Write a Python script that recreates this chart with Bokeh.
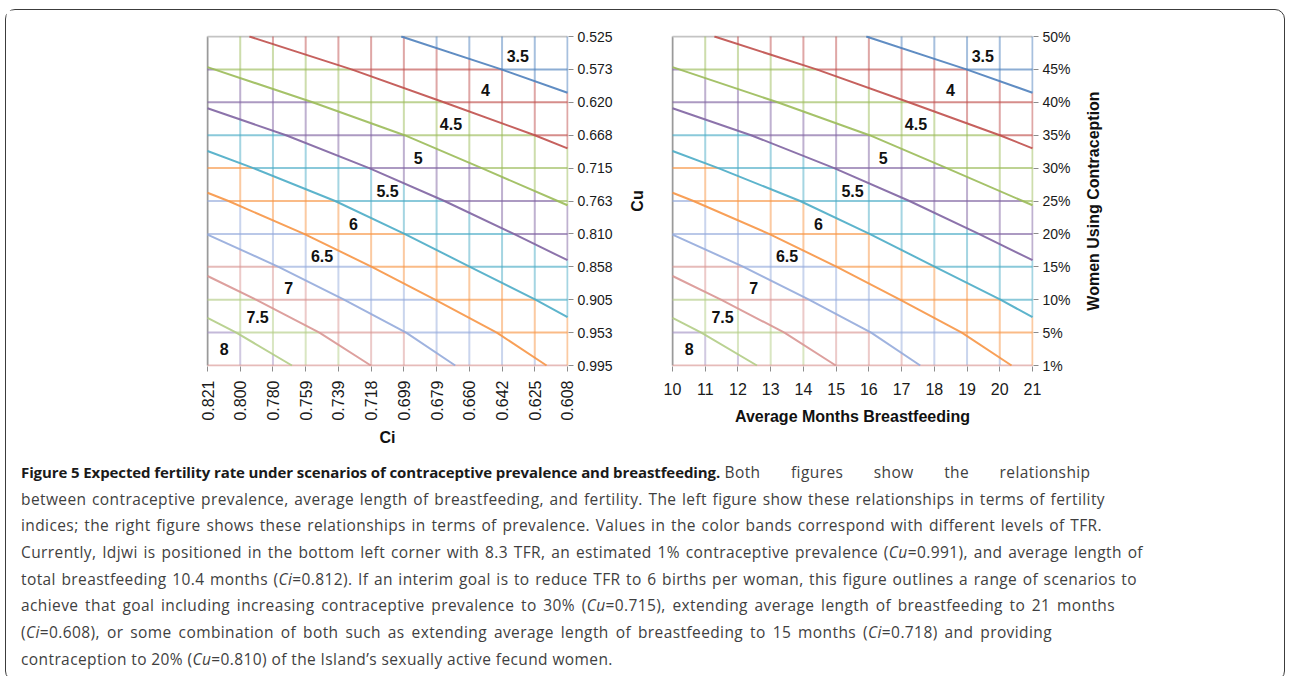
import math
import numpy as np
from bokeh.plotting import figure
from bokeh.models import FixedTicker, Range1d, Div, ColumnDataSource
from bokeh.layouts import column, row
from bokeh.embed import file_html
from bokeh.resources import INLINE
from bokeh.core.properties import value

# ---------------- data ----------------
ci_labels = ["0.821", "0.800", "0.780", "0.759", "0.739", "0.718",
             "0.699", "0.679", "0.660", "0.642", "0.625", "0.608"]
cu_labels = ["0.995", "0.953", "0.905", "0.858", "0.810", "0.763",
             "0.715", "0.668", "0.620", "0.573", "0.525"]          # bottom -> top
month_labels = ["10", "11", "12", "13", "14", "15", "16", "17", "18", "19", "20", "21"]
prev_labels = ["1%", "5%", "10%", "15%", "20%", "25%", "30%", "35%", "40%", "45%", "50%"]

# TFR contour levels and where each contour crosses the grid
# (x = grid column index, y = grid row index from the bottom)
levels = [4.0, 4.5, 5.0, 5.5, 6.0, 6.5, 7.0, 7.5, 8.0]
c40_x = [5.92, 8.98, 11.0];                      c40_y = [10.0, 9.0, 8.29]
c45_x = [1.28, 4.40, 7.22, 10.0, 11.0];          c45_y = [10.0, 9.0, 8.0, 7.0, 6.60]
c50_x = [0.0, 3.21, 6.02, 8.38, 10.7, 11.0];     c50_y = [9.07, 8.0, 7.0, 6.0, 5.0, 4.87]
c55_x = [0.0, 2.40, 4.94, 7.24, 9.36, 11.0];     c55_y = [7.82, 7.0, 6.0, 5.0, 4.0, 3.20]
c60_x = [0.0, 1.40, 3.90, 6.02, 8.02, 10.02, 11.0]; c60_y = [6.52, 6.0, 5.0, 4.0, 3.0, 2.0, 1.47]
c65_x = [0.0, 0.64, 2.95, 5.02, 6.95, 8.84, 10.36]; c65_y = [5.25, 5.0, 4.0, 3.0, 2.0, 1.0, 0.0]
c70_x = [0.0, 2.17, 4.17, 6.07, 7.57];           c70_y = [3.98, 3.0, 2.0, 1.0, 0.0]
c75_x = [0.0, 1.48, 3.42, 4.99];                 c75_y = [2.72, 2.0, 1.0, 0.0]
c80_x = [0.0, 0.88, 2.58];                       c80_y = [1.45, 1.0, 0.0]

band_labels = ["3.5", "4", "4.5", "5", "5.5", "6", "6.5", "7", "7.5", "8"]
band_label_x = [9.48, 8.49, 7.44, 6.44, 5.50, 4.46, 3.50, 2.48, 1.53, 0.51]
band_label_y = [9.40, 8.38, 7.35, 6.31, 5.30, 4.31, 3.34, 2.36, 1.47, 0.51]

band_colors = ["#4F81BD", "#C0504D", "#9BBB59", "#8064A2", "#4BACC6",
               "#F79646", "#95ABDC", "#D99694", "#B3CD86", "#A494C4"]

contour_x = [c40_x, c45_x, c50_x, c55_x, c60_x, c65_x, c70_x, c75_x, c80_x]
contour_y = [c40_y, c45_y, c50_y, c55_y, c60_y, c65_y, c70_y, c75_y, c80_y]
NX = len(ci_labels) - 1
NY = len(cu_labels) - 1


def f_at(k, x):
    xs, ys = contour_x[k], contour_y[k]
    if x <= xs[0]:
        s = (ys[1] - ys[0]) / (xs[1] - xs[0])
        return ys[0] + s * (x - xs[0])
    if x >= xs[-1]:
        s = (ys[-1] - ys[-2]) / (xs[-1] - xs[-2])
        return ys[-1] + s * (x - xs[-1])
    return float(np.interp(x, xs, ys))


def band_at(x, y):
    return sum(1 for k in range(len(levels)) if y < f_at(k, x))


def grid_pieces():
    hx0, hy0, hx1, hy1, hc = [], [], [], [], []
    vx0, vy0, vx1, vy1, vc = [], [], [], [], []
    for j in range(0, NY):
        bps = [0.0, float(NX)]
        for k in range(len(levels)):
            xs, ys = contour_x[k], contour_y[k]
            if min(ys) < j < max(ys):
                xc = float(np.interp(j, ys[::-1], xs[::-1]))
                if 0 < xc < NX:
                    bps.append(xc)
        bps.sort()
        for a, b in zip(bps[:-1], bps[1:]):
            if b - a < 1e-6:
                continue
            hx0.append(a); hx1.append(b); hy0.append(j); hy1.append(j)
            hc.append(band_colors[band_at((a + b) / 2, j)])
    for i in range(1, NX + 1):
        bps = [0.0, float(NY)]
        for k in range(len(levels)):
            xs = contour_x[k]
            if xs[0] < i < xs[-1] or (i == NX and xs[-1] == NX):
                yc = f_at(k, i)
                if 0 < yc < NY:
                    bps.append(yc)
        bps.sort()
        for a, b in zip(bps[:-1], bps[1:]):
            if b - a < 1e-6:
                continue
            vy0.append(a); vy1.append(b); vx0.append(i); vx1.append(i)
            vc.append(band_colors[band_at(i, (a + b) / 2)])
    return (dict(x0=hx0, y0=hy0, x1=hx1, y1=hy1, c=hc),
            dict(x0=vx0, y0=vy0, x1=vx1, y1=vy1, c=vc))


H_DATA, V_DATA = grid_pieces()

PX_X = 32.7
PX_Y = 32.9
XP = 1.0 / PX_X
YP = 1.0 / PX_Y
FONT = "Liberation Sans"
TOP, FH, BOT = 25, 331, 88


def make_panel(xlabels, ylabels, xtitle, x_vertical, mbl, mbr):
    p = figure(frame_width=362, frame_height=FH,
               x_range=Range1d(-XP, NX + XP), y_range=Range1d(-YP, NY + YP),
               y_axis_location="right", toolbar_location=None, output_backend="svg",
               min_border_left=mbl, min_border_right=mbr, min_border_top=TOP,
               min_border_bottom=BOT)
    p.outline_line_color = None
    p.xgrid.grid_line_color = None
    p.ygrid.grid_line_color = None
    p.background_fill_color = "white"
    p.border_fill_color = "white"

    # gray back edges (left / top)
    p.segment(x0=[0, 0], y0=[0, NY], x1=[0, NX], y1=[NY, NY],
              line_color=["#9a9a9a", "#c4c4c4"], line_width=2)

    # coloured grid (wireframe) pieces
    p.segment(x0="x0", y0="y0", x1="x1", y1="y1", line_color="c",
              line_alpha=0.5, line_width=2, source=ColumnDataSource(V_DATA))
    p.segment(x0="x0", y0="y0", x1="x1", y1="y1", line_color="c",
              line_alpha=0.65, line_width=2, source=ColumnDataSource(H_DATA))

    # contour lines
    p.multi_line(xs=contour_x, ys=contour_y,
                 line_color=band_colors[:len(levels)], line_width=2, line_alpha=0.9)

    # band labels
    p.text(x=band_label_x, y=band_label_y, text=band_labels,
           text_font=value(FONT), text_font_style="bold", text_font_size="16px",
           text_align="center", text_baseline="middle", text_color="#111111")

    for ax in (p.xaxis[0], p.yaxis[0]):
        ax.axis_line_color = None
        ax.major_tick_line_color = "#8c8c8c"
        ax.major_tick_out = 5
        ax.major_tick_in = 0
        ax.minor_tick_line_color = None
        ax.major_label_text_font = FONT
        ax.major_label_text_color = "#1a1a1a"
        ax.axis_label_text_font = FONT
        ax.axis_label_text_font_style = "bold"
        ax.axis_label_text_font_size = "16px"
        ax.axis_label_text_color = "#111111"

    p.xaxis.ticker = FixedTicker(ticks=list(range(NX + 1)))
    p.xaxis.major_label_overrides = {i: lab for i, lab in enumerate(xlabels)}
    p.yaxis.ticker = FixedTicker(ticks=list(range(NY + 1)))
    p.yaxis.major_label_overrides = {j: lab for j, lab in enumerate(ylabels)}
    p.yaxis.major_label_text_font_size = "14px"
    p.yaxis.major_label_standoff = 4
    p.xaxis.axis_label = xtitle
    if x_vertical:
        p.xaxis.major_label_orientation = math.pi / 2
        p.xaxis.major_label_text_font_size = "16px"
        p.xaxis.major_label_standoff = 9
        p.xaxis.axis_label_standoff = 5
    else:
        p.xaxis.major_label_text_font_size = "16px"
        p.xaxis.major_label_standoff = 11
        p.xaxis.axis_label_standoff = 10
    return p


def side_title(text, w):
    """A narrow strip that carries a rotated axis title (reads bottom to top)."""
    s = figure(frame_width=w, frame_height=FH, x_range=Range1d(0, 1), y_range=Range1d(0, 1),
               x_axis_location=None, y_axis_location=None, toolbar_location=None,
               output_backend="svg", min_border_left=0, min_border_right=0,
               min_border_top=TOP, min_border_bottom=BOT)
    s.outline_line_color = None
    s.grid.grid_line_color = None
    s.background_fill_color = "white"
    s.border_fill_color = "white"
    s.text(x=[0.5], y=[0.5], text=[text], angle=math.pi / 2,
           text_font=value(FONT), text_font_style="bold", text_font_size="16px",
           text_align="center", text_baseline="middle", text_color="#111111")
    return s


pl = make_panel(ci_labels, cu_labels, "Ci", True, 200, 50)
cu_strip = side_title("Cu", 38)
pr = make_panel(month_labels, prev_labels, "Average Months Breastfeeding", False, 15, 44)
w_strip = side_title("Women Using Contraception", 32)

LINE = "height:26.7px; white-space:nowrap;"
JUST = "display:inline-block; text-align:justify; text-align-last:justify;"


def jline(txt, w):
    return f'<div style="{LINE}"><span style="{JUST} width:{w}px;">{txt}</span></div>'


caption_html = (
    '<div style="font-family: \'Open Sans\', sans-serif; font-size: 15.5px; letter-spacing: 0.4px; '
    'line-height: 26.7px; color: #3f3f3f; padding-left: 10px;">'
    f'<div style="{LINE}"><b style="color:#1a1a1a; font-size: 15px; letter-spacing: -0.1px;">'
    'Figure 5 Expected fertility rate under scenarios of contraceptive prevalence and breastfeeding.</b> '
    f'<span style="{JUST} width:366px;">Both figures show the relationship</span></div>'
    + jline('between contraceptive prevalence, average length of breastfeeding, and fertility. '
            'The left figure show these relationships in terms of fertility', 1084)
    + jline('indices; the right figure shows these relationships in terms of prevalence. '
            'Values in the color bands correspond with different levels of TFR.', 1081)
    + jline('Currently, Idjwi is positioned in the bottom left corner with 8.3 TFR, an estimated '
            '1% contraceptive prevalence (<i>Cu</i>=0.991), and average length of', 1122)
    + jline('total breastfeeding 10.4 months (<i>Ci</i>=0.812). If an interim goal is to reduce '
            'TFR to 6 births per woman, this figure outlines a range of scenarios to', 1116)
    + jline('achieve that goal including increasing contraceptive prevalence to 30% '
            '(<i>Cu</i>=0.715), extending average length of breastfeeding to 21 months', 1094)
    + jline('(<i>Ci</i>=0.608), or some combination of both such as extending average length of '
            'breastfeeding to 15 months (<i>Ci</i>=0.718) and providing', 1031)
    + f'<div style="{LINE}">contraception to 20% (<i>Cu</i>=0.810) of the Island\u2019s sexually active fecund women.</div>'
    + '</div>'
)
caption = Div(text=caption_html, width=1268, height=216)

layout = column(row(pl, cu_strip, pr, w_strip), caption,
                styles={"border": "1px solid #3c3c3c", "border-radius": "10px",
                        "margin-left": "5px", "margin-top": "9px",
                        "width": "1280px", "box-sizing": "border-box"})

open("out.html", "w").write(file_html(layout, INLINE))
